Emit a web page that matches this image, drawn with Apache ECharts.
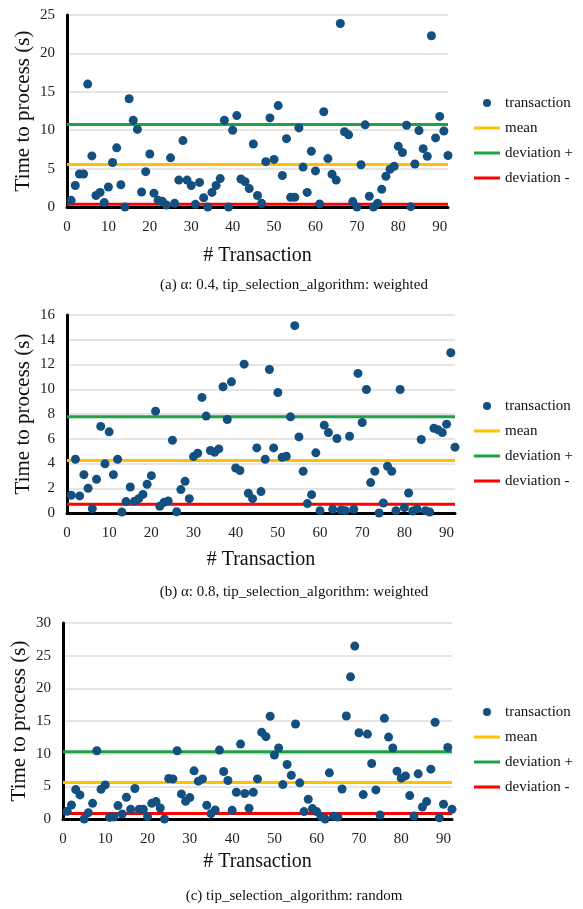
<!DOCTYPE html>
<html>
<head>
<meta charset="utf-8">
<script src="https://cdn.jsdelivr.net/npm/echarts@6/dist/echarts.min.js"></script>
<style>
  html, body { margin: 0; padding: 0; background: #fff; }
  #chart { width: 583px; height: 909px; }
</style>
</head>
<body>
<div id="chart"></div>
<script>
// Transaction indices run 1..92 in every run
const xTicks = [0, 10, 20, 30, 40, 50, 60, 70, 80, 90];

// (a) alpha 0.4, weighted tip selection
const timesA = [0.87, 2.8, 4.3, 4.3, 16.0, 6.65, 1.5, 1.9, 0.57, 2.6,
  5.8, 7.7, 2.9, 0.0, 14.1, 11.3, 10.1, 1.96, 4.6, 6.9,
  1.8, 0.87, 0.74, 0.26, 6.4, 0.48, 3.5, 8.65, 3.5, 2.8,
  0.35, 3.2, 1.2, 0.0, 1.9, 2.8, 3.7, 11.3, 0.0, 10.0,
  11.9, 3.65, 3.3, 2.4, 8.2, 1.5, 0.48, 5.9, 11.6, 6.2,
  13.2, 4.1, 8.9, 1.26, 1.26, 10.3, 5.2, 1.9, 7.26, 4.7,
  0.4, 12.4, 6.3, 4.26, 3.5, 23.9, 9.8, 9.4, 0.7, 0.0,
  5.5, 10.7, 1.4, 0.0, 0.5, 2.3, 4.0, 4.9, 5.3, 7.9,
  7.1, 10.65, 0.04, 5.6, 9.96, 7.6, 6.6, 22.3, 9.0, 11.8,
  9.9, 6.7];
const statsA = { mean: 5.55, devPlus: 10.74, devMinus: 0.36 };
const yTicksA = [0, 5, 10, 15, 20, 25];

// (b) alpha 0.8, weighted tip selection
const timesB = [1.43, 4.34, 1.38, 3.1, 2.0, 0.35, 2.73, 7.0, 3.97, 6.56,
  3.1, 4.34, 0.08, 0.92, 2.1, 0.94, 1.16, 1.5, 2.32, 3.02,
  8.23, 0.54, 0.86, 0.97, 5.88, 0.1, 1.89, 2.56, 1.16, 4.56,
  4.83, 9.34, 7.83, 5.05, 4.9, 5.18, 10.2, 7.56, 10.6, 3.64,
  3.43, 12.03, 1.6, 1.16, 5.26, 1.73, 4.34, 11.6, 5.26, 9.74,
  4.5, 4.59, 7.77, 15.14, 6.15, 3.37, 0.76, 1.48, 4.86, 0.19,
  7.1, 6.5, 0.3, 6.02, 0.24, 0.19, 6.2, 0.3, 11.28, 7.31,
  9.98, 2.46, 3.37, 0.0, 0.81, 3.78, 3.37, 0.19, 9.98, 0.43,
  1.62, 0.16, 0.32, 5.94, 0.19, 0.08, 6.85, 6.72, 6.5, 7.18,
  12.95, 5.32];
const statsB = { mean: 4.24, devPlus: 7.77, devMinus: 0.70 };
const yTicksB = [0, 2, 4, 6, 8, 10, 12, 14, 16];

// (c) random tip selection
const timesC = [1.18, 2.15, 4.5, 3.69, 0.0, 0.97, 2.4, 10.45, 4.56, 5.22,
  0.26, 0.31, 2.05, 0.77, 3.33, 1.48, 4.66, 1.48, 1.48, 0.36,
  2.4, 2.66, 1.69, 0.0, 6.2, 6.14, 10.45, 3.84, 2.71, 3.28,
  7.37, 5.79, 6.14, 2.1, 0.82, 1.38, 10.55, 7.27, 5.89, 1.33,
  4.1, 11.47, 3.9, 1.64, 4.1, 6.14, 13.26, 12.6, 15.72, 9.78,
  10.86, 5.27, 8.35, 6.7, 14.54, 5.53, 1.13, 3.02, 1.59, 1.13,
  0.36, 0.0, 7.07, 0.41, 0.31, 4.6, 15.77, 21.76, 26.47, 13.21,
  3.74, 13.0, 8.5, 4.45, 0.61, 15.41, 12.54, 10.86, 7.32, 6.25,
  6.6, 3.58, 0.46, 6.91, 1.84, 2.66, 7.63, 14.8, 0.2, 2.25,
  10.96, 1.48];
const statsC = { mean: 5.57, devPlus: 10.29, devMinus: 0.84 };
const yTicksC = [0, 5, 10, 15, 20, 25, 30];

const captions = [
  '(a) α: 0.4, tip_selection_algorithm: weighted',
  '(b) α: 0.8, tip_selection_algorithm: weighted',
  '(c) tip_selection_algorithm: random'
];
const legendNames = ['transaction', 'mean', 'deviation +', 'deviation -'];

const FONT = '"Liberation Serif", "Times New Roman", serif';
const DOT = '#14507f';
const LINE_COLORS = { mean: '#ffc000', devPlus: '#1ea244', devMinus: '#ff0000' };
// plain horizontal bar used as the legend key of the reference lines
const LINE_ICON = 'path://M0,0h26v3h-26z';

const panels = [
  { times: timesA, stats: statsA, yTicks: yTicksA,
    grid: { left: 67, top: 15, width: 381, height: 192 },
    xNameGap: 39, legendTop: 90, captionY: 285 },
  { times: timesB, stats: statsB, yTicks: yTicksB,
    grid: { left: 67, top: 315, width: 388, height: 198 },
    xNameGap: 37, legendTop: 393, captionY: 592 },
  { times: timesC, stats: statsC, yTicks: yTicksC,
    grid: { left: 63, top: 623, width: 389, height: 196 },
    xNameGap: 33, legendTop: 699, captionY: 896 }
];

const xMin = xTicks[0];
const xMax = 92;

const grids = [], xAxes = [], yAxes = [], series = [], legends = [], graphics = [];

panels.forEach((p, k) => {
  grids.push(Object.assign({ containLabel: false }, p.grid));
  const yStep = p.yTicks[1] - p.yTicks[0];
  xAxes.push({
    type: 'value', gridIndex: k,
    min: xMin, max: xMax, interval: xTicks[1] - xTicks[0],
    name: '# Transaction', nameLocation: 'middle', nameGap: p.xNameGap,
    nameTextStyle: { fontFamily: FONT, fontSize: 20, color: '#111' },
    axisLine: { show: true, onZero: false, lineStyle: { color: '#000', width: 3 } },
    axisTick: { show: false },
    splitLine: { show: false },
    axisLabel: { fontFamily: FONT, fontSize: 15, color: '#222', margin: 13, showMaxLabel: false }
  });
  yAxes.push({
    type: 'value', gridIndex: k,
    min: p.yTicks[0], max: p.yTicks[p.yTicks.length - 1], interval: yStep,
    name: 'Time to process (s)', nameLocation: 'middle', nameGap: 33,
    nameMoveOverlap: false,
    nameTextStyle: { fontFamily: FONT, fontSize: 21, color: '#111' },
    axisLine: { show: true, lineStyle: { color: '#000', width: 3 } },
    axisTick: { show: false },
    splitLine: { show: true, lineStyle: { color: '#dcdcdc', width: 1.5 } },
    axisLabel: { fontFamily: FONT, fontSize: 15, color: '#222', margin: 12 }
  });

  const hLine = (name, value, color) => ({
    type: 'line', name, xAxisIndex: k, yAxisIndex: k,
    data: [[xMin, value], [xMax, value]],
    symbol: 'none', silent: true, z: 3,
    itemStyle: { color },
    lineStyle: { color, width: 3 }
  });
  series.push(hLine('mean', p.stats.mean, LINE_COLORS.mean));
  series.push(hLine('deviation +', p.stats.devPlus, LINE_COLORS.devPlus));
  series.push(hLine('deviation -', p.stats.devMinus, LINE_COLORS.devMinus));
  series.push({
    type: 'scatter', name: 'transaction', xAxisIndex: k, yAxisIndex: k,
    data: p.times.map((v, i) => [i + 1, v]),
    symbolSize: 9, z: 5,
    itemStyle: { color: DOT, opacity: 1 }
  });

  legends.push({
    orient: 'vertical', left: 469, top: p.legendTop,
    data: legendNames.map((name, i) => ({ name, icon: i === 0 ? 'circle' : LINE_ICON })),
    itemWidth: 26, itemHeight: 8, itemGap: 9,
    textStyle: { fontFamily: FONT, fontSize: 15, color: '#111', lineHeight: 16 }
  });

  graphics.push({
    type: 'text', x: 294, y: p.captionY,
    style: {
      text: captions[k], fontFamily: FONT, fontSize: 15, fill: '#111',
      textAlign: 'center', textVerticalAlign: 'middle'
    }
  });
});

const chart = echarts.init(document.getElementById('chart'));
chart.setOption({
  animation: false,
  backgroundColor: '#fff',
  grid: grids,
  xAxis: xAxes,
  yAxis: yAxes,
  legend: legends,
  series,
  graphic: graphics
});
</script>
</body>
</html>
